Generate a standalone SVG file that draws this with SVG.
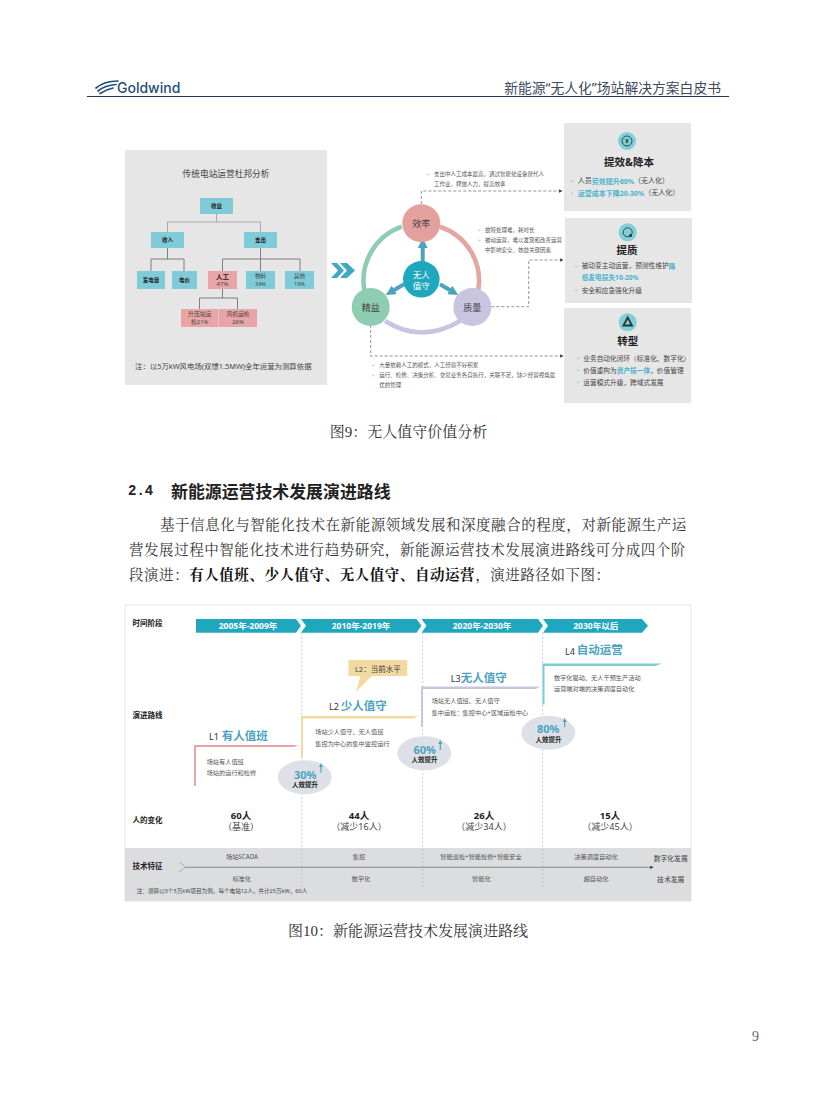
<svg xmlns="http://www.w3.org/2000/svg" width="816" height="1099" viewBox="0 0 816 1099">
<style>
text{font-family:"Noto Sans","Noto Sans CJK SC",sans-serif;dominant-baseline:central;fill:#444}
.s{font-family:"Liberation Serif","Noto Serif CJK SC","Noto Sans CJK SC",serif;fill:#333}
.m{text-anchor:middle}
.b{font-weight:700;fill:#222}
.box{fill:#7FCBD8}
.pk{fill:#E9A5A5}
.t5{font-size:5.5px;fill:#555}
.t6{font-size:6.2px;fill:#555}
.t7{font-size:6.7px;fill:#444}
.hl{fill:#4BB3CC;font-weight:700}
.bul{font-size:5px;fill:#7FCBD8}
.lab{font-size:7.5px;font-weight:700;fill:#222}
.ttl{font-size:11.5px;font-weight:700;fill:#4BA3BF}
.lv{font-size:9px;fill:#333}
.pct{font-size:11px;font-weight:700;fill:#4BA3BF}
.eff{font-size:6.5px;font-weight:700;fill:#222;text-anchor:middle}
.ell{fill:#DDE0E6}
.ln{fill:none;stroke:#9b9b9b;stroke-width:.8}
.ld{fill:none;stroke:#666;stroke-width:.8}
.dash{fill:none;stroke:#666;stroke-width:.7;stroke-dasharray:3 2}
.vd{fill:none;stroke:#A9BEDC;stroke-width:.7;stroke-dasharray:2 2}
.bar{fill:#1FA7BE}
.bt{font-size:8.5px;font-weight:700;fill:#fff;text-anchor:middle}
.panel{fill:#E6E6E6}
.up{stroke:#4BA3BF;stroke-width:1.2;fill:none;marker-end:url(#u)}
.ring{fill:none;stroke-width:4.6}
.ic{fill:#7FD0D8}
.sw{fill:none;stroke:#1F4E79;stroke-width:1.7;stroke-linecap:round}
</style>
<defs>
<marker id="a" viewBox="0 0 6 6" refX="5" refY="3" markerWidth="5" markerHeight="5" orient="auto"><path d="M0 0L6 3L0 6z" fill="#444"/></marker>
<marker id="u" viewBox="0 0 6 6" refX="3" refY="3" markerWidth="3.4" markerHeight="3.4" orient="auto"><path d="M0 0L6 3L0 6z" fill="#4BA3BF"/></marker>
<marker id="w" viewBox="0 0 6 6" refX="3" refY="3" markerWidth="2.5" markerHeight="2.5" orient="auto"><path d="M0 0L6 3L0 6z" fill="#4BA3BF"/></marker>
</defs>
<rect width="816" height="1099" fill="#fff"/>

<g id="header">
<path class="sw" d="M96 88C102 83 110 81 118 81"/>
<path class="sw" d="M98 91C103 87 109 85 116 84.500"/>
<path class="sw" d="M100 93.500C104 91 108 89 113 88"/>
<text x="117" y="87" style="font-family:'Inter','Noto Sans',sans-serif;font-size:14px;font-weight:500;fill:#1F4E79">Goldwind</text>
<text x="721" y="87" text-anchor="end" style="font-size:13.800px;fill:#3B4A5C">新能源“无人化”场站解决方案白皮书</text>
<path d="M87 96.500H729" stroke="#1F3A5A" stroke-width="1"/>
</g>

<g id="fig9-dupont">
<rect class="panel" x="125" y="150" width="202" height="235"/>
<text class="m" x="226" y="174" style="font-size:8.700px;fill:#444">传统电站运营杜邦分析</text>
</g>
<g id="connectors-dupont">
<path class="ln" d="M216.500 214V222M167.500 232V222H260.500V232"/>
<path class="ld" d="M167.500 248V259M151 271V259H184V271M260.500 248V271M222.500 271V259H300V271M222.500 289V298M199.500 309V298H237.500V309"/>
</g>
<g id="n-shouyi"><rect class="box" x="200" y="198" width="33" height="16"/><text class="m b" x="216.500" y="206" font-size="5.500">收益</text></g>
<g id="n-shouru"><rect class="box" x="151" y="232" width="33" height="16"/><text class="m b" x="167.500" y="240" font-size="5.500">收入</text></g>
<g id="n-zhichu"><rect class="box" x="244" y="232" width="33" height="16"/><text class="m b" x="260.500" y="240" font-size="5.500">支出</text></g>
<g id="n-fadian"><rect class="box" x="137" y="271" width="28" height="18"/><text class="m b" x="151" y="280" font-size="5.500">发电量</text></g>
<g id="n-dianjia"><rect class="box" x="172" y="271" width="25" height="18"/><text class="m b" x="184.500" y="280" font-size="5.500">电价</text></g>
<g id="n-rengong"><rect class="pk" x="208" y="271" width="29" height="18"/><text class="m b" x="222.500" y="276" font-size="6.500">人工</text><text class="m" x="222.500" y="284" font-size="6">47%</text></g>
<g id="n-wuliao"><rect class="box" x="246" y="271" width="29" height="18"/><text class="m" x="260.500" y="276" font-size="5.500">物料</text><text class="m" x="260.500" y="284" font-size="5.500">34%</text></g>
<g id="n-qita"><rect class="box" x="285" y="271" width="29" height="18"/><text class="m" x="299.500" y="276" font-size="5.500">其他</text><text class="m" x="299.500" y="284" font-size="5.500">19%</text></g>
<g id="n-shengya"><rect class="pk" x="181" y="309" width="37.500" height="18"/><text class="m" x="199.700" y="314" font-size="5.800">升压站运</text><text class="m" x="199.700" y="322" font-size="5.800">检21%</text></g>
<g id="n-fengji"><rect class="pk" x="219" y="309" width="38" height="18"/><text class="m" x="238" y="314" font-size="5.800">风机运检</text><text class="m" x="238" y="322" font-size="5.800">26%</text></g>
<text x="135" y="365.500" font-size="7.400" fill="#444">注：以5万kW风电场(双馈1.5MW)全年运营为测算依据</text>

<g id="chevrons"><path d="M331 263H337L344 270.500L337 278H331L338 270.500z" fill="#3FA9C4"/><path d="M340 263H347L355 270.500L347 278H340L347 270.500z" fill="#3FA9C4"/></g>

<g id="connectors-ring">
<path class="ring" stroke="#E4A5A5" d="M440 226.700A57 57 0 0 1 478.300 290"/>
<path class="ring" stroke="#8FCDB2" d="M401.700 226.700A57 57 0 0 0 364.300 290"/>
<path class="ring" stroke="#C9C5E0" d="M385 321Q421.300 344 460 321"/>
<path d="M422.700 262V243" stroke="#4BA3BF" stroke-width="4" marker-end="url(#w)"/>
<path d="M404 284.300L390 292.500" stroke="#4BA3BF" stroke-width="4" marker-end="url(#w)"/>
<path d="M440 284.300L454 292.500" stroke="#4BA3BF" stroke-width="4" marker-end="url(#w)"/>
<path class="dash" marker-end="url(#a)" d="M421.300 204V191H562"/>
<path class="dash" marker-end="url(#a)" d="M491.300 306.700H528.700V260H563"/>
<path class="dash" marker-end="url(#a)" d="M370.700 325V356H563"/>
</g>
<g id="n-xiaolv"><circle cx="421.300" cy="223.300" r="19" fill="#E4A09C"/><text class="m" x="421.300" y="223.300" font-size="9" fill="#333">效率</text></g>
<g id="n-jingyi"><circle cx="370.700" cy="307" r="19" fill="#8FCDB2"/><text class="m" x="370.700" y="307" font-size="9" fill="#333">精益</text></g>
<g id="n-zhiliang"><circle cx="472.300" cy="307" r="19" fill="#C9C5E0"/><text class="m" x="472.300" y="307" font-size="9" fill="#333">质量</text></g>
<g id="n-wuren"><circle cx="421.300" cy="279.300" r="18.300" fill="#1FA7BE"/><text class="m" x="421.300" y="274.500" style="font-size:8.500px;fill:#fff">无人</text><text class="m" x="421.300" y="285" style="font-size:8.500px;fill:#fff">值守</text></g>

<g id="notes">
<text class="bul" x="426" y="174">➢</text><text class="t5" x="434" y="174">支出中人工成本最高，通过智能化设备替代人</text><text class="t5" x="434" y="184">工作业，释放人力，提高效率</text>
<text class="bul" x="477" y="230">➢</text><text class="t5" x="485" y="230">故障处理难，耗时长</text>
<text class="bul" x="477" y="240">➢</text><text class="t5" x="485" y="240">被动运营，难以发现和改善运营</text><text class="t5" x="485" y="250">中影响安全、效益关键因素</text>
<text class="bul" x="371" y="365">➢</text><text class="t5" x="379.300" y="365">大量依赖人工的模式，人工经验不好积累</text>
<text class="bul" x="371" y="375">➢</text><text class="t5" x="379.300" y="375">运行、检修、决策分析、交易业务各自执行，关联不足，缺少经营视角最</text><text class="t5" x="379.300" y="385">优的管理</text>
</g>

<g id="card-a"><rect class="panel" x="564" y="123" width="127" height="88"/><circle class="ic" cx="627" cy="141" r="9"/><circle cx="627" cy="141" r="5" fill="none" stroke="#333" stroke-width=".9"/><text class="m b" x="627" y="141" font-size="6" style="fill:#333">¥</text>
<text class="m b" x="629" y="162" font-size="10.500">提效&amp;降本</text>
<text class="bul" x="570" y="180.500">➢</text><text class="t7" x="577.700" y="180.500" style="font-size:7px">人员<tspan class="hl">劳效提升60%</tspan>（无人化）</text>
<text class="bul" x="570" y="192.700">➢</text><text class="t7" x="577.700" y="192.700" style="font-size:7px"><tspan class="hl">运营成本下降20-30%</tspan>（无人化）</text></g>
<g id="card-b"><rect class="panel" x="565" y="218" width="127" height="85"/><circle class="ic" cx="627.700" cy="232.300" r="9"/><circle cx="627.700" cy="232.300" r="4.500" fill="none" stroke="#333" stroke-width=".9"/><circle cx="630.500" cy="235.500" r="1.500" fill="#333"/>
<text class="m b" x="627" y="250" font-size="10.500">提质</text>
<text class="bul" x="574" y="265.700">➢</text><text class="t7" x="581.700" y="265.700">被动变主动运营，预测性维护<tspan class="hl">降</tspan></text>
<text class="hl" x="581.700" y="277.700" font-size="6.700">低发电损失10-20%</text>
<text class="bul" x="574" y="290">➢</text><text class="t7" x="581.700" y="290">安全和应急强化升级</text></g>
<g id="card-c"><rect class="panel" x="564" y="308" width="127" height="95"/><circle class="ic" cx="627.700" cy="322.300" r="9"/><path d="M627.700 317.500L632 325.500H623.400z" fill="none" stroke="#333" stroke-width="1.800"/>
<text class="m b" x="627.700" y="340.700" font-size="10.500">转型</text>
<text class="bul" x="575.500" y="358">➢</text><text class="t7" x="583.300" y="358">业务自动化闭环（标准化、数字化）</text>
<text class="bul" x="575.500" y="370.300">➢</text><text class="t7" x="583.300" y="370.300">价值重构为<tspan class="hl">资产损一体</tspan>，价值管理</text>
<text class="bul" x="575.500" y="382.300">➢</text><text class="t7" x="583.300" y="382.300">运营模式升级，跨域式发展</text></g>

<text class="s m" x="408.500" y="432" font-size="15">图9：无人值守价值分析</text>
<text x="128" y="491" style="font-family:'Liberation Mono',monospace;font-size:14px;font-weight:700;fill:#222">2.4</text>
<text x="171" y="491" style="font-size:16.900px;font-weight:700;fill:#222">新能源运营技术发展演进路线</text>
<text class="s" x="160" y="525" font-size="14.500" letter-spacing=".55">基于信息化与智能化技术在新能源领域发展和深度融合的程度，对新能源生产运</text>
<text class="s" x="129" y="550" font-size="14.500" letter-spacing=".55">营发展过程中智能化技术进行趋势研究，新能源运营技术发展演进路线可分成四个阶</text>
<text class="s" x="129" y="575" font-size="14.500" letter-spacing=".55">段演进：<tspan font-weight="700" fill="#111">有人值班、少人值守、无人值守、自动运营</tspan>，演进路径如下图：</text>

<g id="fig10-frame"><rect x="125" y="605" width="566" height="296" fill="#fff" stroke="#DDD" stroke-width=".8"/><rect x="125" y="848" width="566" height="53" fill="#DCDDDF"/></g>
<g id="connectors-timeline">
<path class="vd" d="M301.700 633V887M422.700 633V887M542.700 633V887"/>
<path d="M185.700 867.300H653" stroke="#666" stroke-width=".7" marker-end="url(#a)"/>
<path d="M179.300 861.700L185.700 867.300L179.300 871.700" fill="none" stroke="#888" stroke-width=".6"/>
</g>
<g id="row-labels">
<text class="lab" x="132.500" y="623">时间阶段</text><text class="lab" x="132.500" y="714.700">演进路线</text><text class="lab" x="132.500" y="819.700">人的变化</text><text class="lab" x="132.500" y="865.700">技术特征</text>
</g>
<g id="p1"><path class="bar" d="M196 619H296L301 625.800L296 632.700H196z"/><text class="bt" x="248" y="625.700">2005年-2009年</text></g>
<g id="p2"><path class="bar" d="M301 619H416.500L421.500 625.800L416.500 632.700H301L306 625.800z"/><text class="bt" x="361" y="625.700">2010年-2019年</text></g>
<g id="p3"><path class="bar" d="M421.500 619H538L543 625.800L538 632.700H421.500L426.500 625.800z"/><text class="bt" x="482" y="625.700">2020年-2030年</text></g>
<g id="p4"><path class="bar" d="M543 619H642L648 625.800L642 632.700H543L548 625.800z"/><text class="bt" x="595.700" y="625.700">2030年以后</text></g>

<g id="callout"><path d="M348.300 660H407.300V676H371.700L356 691.700L360.700 676H348.300z" fill="#F2D9A0"/><text class="m" x="377.800" y="669" font-size="7.500">L2：当前水平</text></g>

<g id="l1"><text class="lv" x="209" y="736">L1</text><text class="ttl" x="221.700" y="735.500">有人值班</text>
<path d="M194 745H298L294 747H196V786H194z" fill="#E9A5A5"/>
<text class="t6" x="206.700" y="761">场站有人值班</text><text class="t6" x="206.700" y="772.300">场站的运行和检修</text></g>
<g id="l2"><text class="lv" x="329" y="706">L2</text><text class="ttl" x="340.700" y="705.500">少人值守</text>
<path d="M301 716H418L414 718.500H303V757H301z" fill="#F2D9A0"/>
<text class="t6" x="315.300" y="731.700">场站少人值守、无人值班</text><text class="t6" x="315.300" y="743">集控为中心的集中监控运行</text></g>
<g id="l3"><text class="lv" x="450.700" y="678">L3</text><text class="ttl" x="460.700" y="677.500">无人值守</text>
<path d="M421 686.500H540L536 689H423V727H421z" fill="#C9C5E0"/>
<text class="t6" x="431.700" y="700.700">场站无人值班、无人值守</text><text class="t6" x="431.700" y="712.300">集中运检：集控中心+区域运检中心</text></g>
<g id="l4"><text class="lv" x="565" y="651">L4</text><text class="ttl" x="576.700" y="649.500">自动运营</text>
<path d="M542.500 663.500H662L655 666H544.500V704.500H542.500z" fill="#7FCBD6"/>
<text class="t6" x="554" y="677.300">数字化驱动、无人干预生产活动</text><text class="t6" x="554" y="688.700">运营端对端的决策调度自动化</text></g>

<g id="e30"><ellipse class="ell" cx="304.700" cy="777.300" rx="27" ry="17"/><text class="pct" x="294" y="774">30%</text><path class="up" d="M321 772.700V765"/><text class="eff" x="305" y="784">人效提升</text></g>
<g id="e60"><ellipse class="ell" cx="424.300" cy="753.300" rx="27" ry="17"/><text class="pct" x="413.500" y="749.700">60%</text><path class="up" d="M440.300 750V742"/><text class="eff" x="424.500" y="759.700">人效提升</text></g>
<g id="e80"><ellipse class="ell" cx="548.300" cy="732.700" rx="27" ry="17"/><text class="pct" x="537" y="728.700">80%</text><path class="up" d="M564.700 727.300V720"/><text class="eff" x="548.500" y="739.300">人效提升</text></g>

<g id="people">
<text class="m b" x="241" y="815" font-size="9.500">60人</text><text class="m" x="241" y="826" font-size="9">（基准）</text>
<text class="m b" x="359" y="815" font-size="9.500">44人</text><text class="m" x="359" y="826" font-size="9">（减少16人）</text>
<text class="m b" x="484" y="815" font-size="9.500">26人</text><text class="m" x="484" y="826" font-size="9">（减少34人）</text>
<text class="m b" x="610" y="815" font-size="9.500">15人</text><text class="m" x="610" y="826" font-size="9">（减少45人）</text>
</g>
<g id="tech">
<text class="m t6" x="242" y="856.700">场站SCADA</text><text class="m t6" x="359" y="856.700">集控</text><text class="m t6" x="481" y="856.700">智能巡检+智能检修+智能安全</text><text class="m t6" x="596" y="856.700">决策调度自动化</text>
<text class="m t6" x="241.700" y="878">标准化</text><text class="m t6" x="361" y="878">数字化</text><text class="m t6" x="481.300" y="878">智能化</text><text class="m t6" x="596" y="878">超自动化</text>
<text class="m" x="670.700" y="858" font-size="6.800">数字化发展</text><text class="m" x="670.700" y="879.700" font-size="6.800">技术发展</text>
<text x="136.700" y="891.300" font-size="5.600" fill="#555">注：测算以5个5万kW项目为例，每个电站12人，共计25万kW，60人</text>
</g>

<text class="s m" x="408" y="931" font-size="15">图10：新能源运营技术发展演进路线</text>
<text class="s" x="752" y="1036" style="font-size:14px;fill:#666">9</text>
</svg>
